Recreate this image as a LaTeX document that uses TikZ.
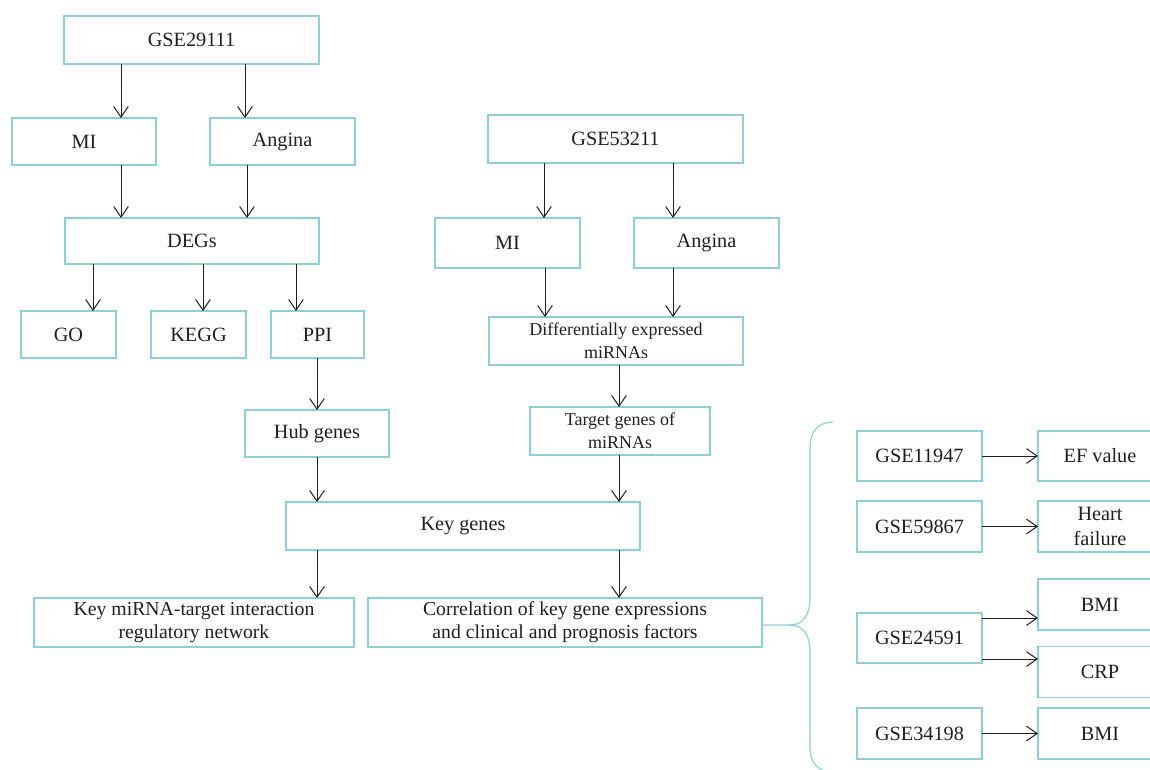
\documentclass[tikz,border=0pt]{standalone}
\usepackage{fontspec}
\setmainfont{Liberation Serif}
\usetikzlibrary{arrows.meta}
\definecolor{boxc}{RGB}{140,208,214}
\definecolor{arrc}{RGB}{30,30,30}
\tikzset{
  bx/.style 2 args={draw=boxc, line width=0.9pt, inner sep=0pt, outer sep=0pt,
    minimum width=#1*0.75pt, minimum height=#2*0.75pt, align=center,
    font=\fontsize{15.2}{19}\selectfont, text=black!88},
  small/.style={font=\fontsize{13.5}{17}\selectfont},
  wide/.style={font=\fontsize{14.8}{17.5}\selectfont},
  arr/.style={draw=arrc, line width=0.75pt, -{Straight Barb[length=8pt,width=11pt,line width=0.75pt]}},
  brace/.style={draw=boxc, line width=0.9pt},
}
\begin{document}
\begin{tikzpicture}[x=0.75pt,y=-0.75pt]
\useasboundingbox (0,0) rectangle (1150,769);
\clip (0,0) rectangle (1150,769);
% left tree
\node[bx={255}{48}] (g29) at (191.5,40) {GSE29111};
\node[bx={144}{47}] (mi1) at (84,141.5) {MI};
\node[bx={145}{47}] (an1) at (282.5,141.5) {Angina};
\node[bx={254}{46}] (deg) at (192,241) {DEGs};
\node[bx={95}{47}] (go) at (68.5,334.5) {GO};
\node[bx={95}{47}] (kegg) at (198.5,334.5) {KEGG};
\node[bx={93}{47}] (ppi) at (317.5,334.5) {PPI};
\node[bx={144}{47}] (hub) at (317,433.5) {Hub genes};
% middle tree
\node[bx={255}{48}] (g53) at (615.5,139) {GSE53211};
\node[bx={145}{50}] (mi2) at (507.5,243) {MI};
\node[bx={145}{50}] (an2) at (706.5,243) {Angina};
\node[bx={254}{48},small] (dem) at (616,341) {Differentially expressed\\miRNAs};
\node[bx={180}{48},small] (tg) at (620,431) {Target genes of\\miRNAs};
\node[bx={354}{48}] (key) at (463,526) {Key genes};
\node[bx={320}{49},wide] (kmr) at (194,622.5) {Key miRNA-target interaction\\regulatory network};
\node[bx={394}{49},wide] (cor) at (565,622.5) {Correlation of key gene expressions\\and clinical and prognosis factors};
% right side
\node[bx={125}{50}] (g11) at (919.5,456) {GSE11947};
\node[bx={124}{50}] (ef) at (1100,456) {EF value};
\node[bx={125}{51}] (g59) at (919.5,526.5) {GSE59867};
\node[bx={124}{51}] (hf) at (1100,526.5) {Heart\\failure};
\node[bx={124}{51}] (bmi1) at (1100,604.5) {BMI};
\node[bx={125}{50}] (g24) at (919.5,638) {GSE24591};
\node[bx={124}{51}] (crp) at (1100,672) {CRP};
\node[bx={125}{51}] (g34) at (919.5,733.5) {GSE34198};
\node[bx={124}{51}] (bmi2) at (1100,733.5) {BMI};
% arrows left tree
\draw[arr] (121,0 |- g29.south) -- (121,0 |- mi1.north);
\draw[arr] (245,0 |- g29.south) -- (245,0 |- an1.north);
\draw[arr] (121,0 |- mi1.south) -- (121,0 |- deg.north);
\draw[arr] (247,0 |- an1.south) -- (247,0 |- deg.north);
\draw[arr] (93,0 |- deg.south) -- (93,0 |- go.north);
\draw[arr] (203,0 |- deg.south) -- (203,0 |- kegg.north);
\draw[arr] (296,0 |- deg.south) -- (296,0 |- ppi.north);
\draw[arr] (317,0 |- ppi.south) -- (317,0 |- hub.north);
\draw[arr] (317,0 |- hub.south) -- (317,0 |- key.north);
\draw[arr] (317,0 |- key.south) -- (317,0 |- kmr.north);
% arrows middle tree
\draw[arr] (544,0 |- g53.south) -- (544,0 |- mi2.north);
\draw[arr] (673,0 |- g53.south) -- (673,0 |- an2.north);
\draw[arr] (545,0 |- mi2.south) -- (545,0 |- dem.north);
\draw[arr] (673,0 |- an2.south) -- (673,0 |- dem.north);
\draw[arr] (619,0 |- dem.south) -- (619,0 |- tg.north);
\draw[arr] (619,0 |- tg.south) -- (619,0 |- key.north);
\draw[arr] (619,0 |- key.south) -- (619,0 |- cor.north);
% right arrows
\draw[arr] (g11.east) -- (g11.east -| ef.west);
\draw[arr] (g59.east) -- (g59.east -| hf.west);
\draw[arr] (g24.east |- 0,618) -- (bmi1.west |- 0,618);
\draw[arr] (g24.east |- 0,659) -- (crp.west |- 0,659);
\draw[arr] (g34.east) -- (g34.east -| bmi2.west);
% brace
\coordinate (btip) at (790,625);
\draw[brace] (cor.east |- btip) -- (btip)
  .. controls (803,625) and (810,615) .. (810,598) -- (810,447)
  .. controls (810,432) and (818,422) .. (833,422);
\draw[brace] (btip)
  .. controls (803,625) and (810,635) .. (810,652) -- (810,748)
  .. controls (810,762) and (818,772) .. (833,772);
\end{tikzpicture}
\end{document}
